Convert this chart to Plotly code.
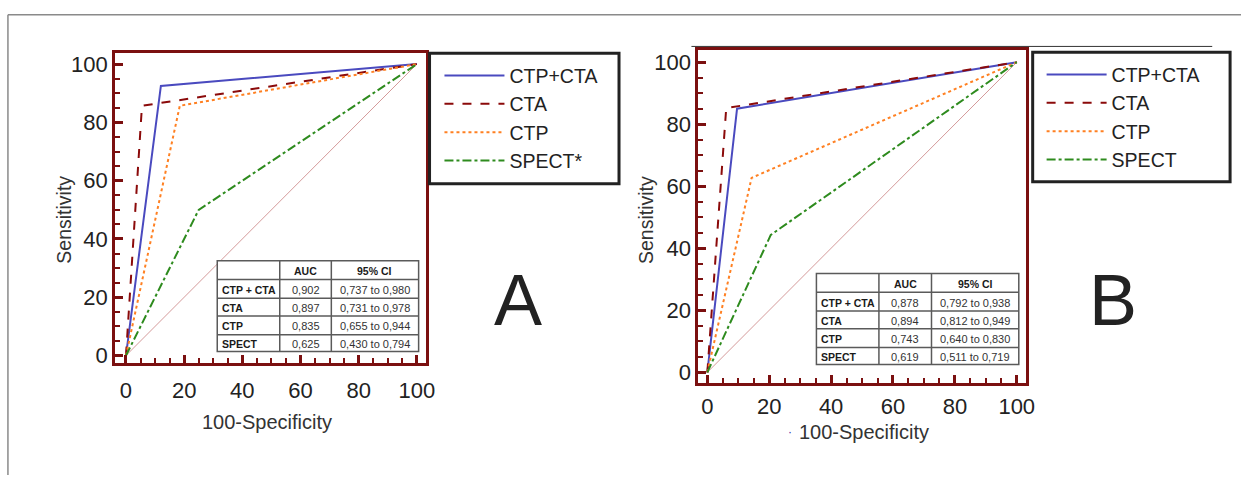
import plotly.graph_objects as go

W, H = 1251, 480
SANS = "Liberation Sans, Arial, sans-serif"

# ---------------- data ----------------
series_names_A = ["CTP+CTA", "CTA", "CTP", "SPECT*"]
series_names_B = ["CTP+CTA", "CTA", "CTP", "SPECT"]

# panel A (x = 100-Specificity, y = Sensitivity)
a_ctpcta_x = [0, 12, 100]
a_ctpcta_y = [0, 92.5, 100]
a_cta_x = [0, 5.5, 100]
a_cta_y = [0, 85.7, 100]
a_ctp_x = [0, 18.5, 100]
a_ctp_y = [0, 85.7, 100]
a_spect_x = [0, 25, 100]
a_spect_y = [0, 50, 100]

# panel B
b_ctpcta_x = [0, 9.6, 100]
b_ctpcta_y = [0, 85, 100]
b_cta_x = [0, 6.1, 100]
b_cta_y = [0, 85.2, 100]
b_ctp_x = [0, 14.3, 100]
b_ctp_y = [0, 62.7, 100]
b_spect_x = [0, 20.5, 100]
b_spect_y = [0, 44.3, 100]

diag_x = [0, 100]
diag_y = [0, 100]

tick_vals = [0, 20, 40, 60, 80, 100]
tick_text = ["0", "20", "40", "60", "80", "100"]

table_rows = ["CTP + CTA", "CTA", "CTP", "SPECT"]
table_header = ["", "AUC", "95% CI"]
auc_A = ["0,902", "0,897", "0,835", "0,625"]
ci_A = ["0,737 to 0,980", "0,731 to 0,978", "0,655 to 0,944", "0,430 to 0,794"]
auc_B = ["0,878", "0,894", "0,743", "0,619"]
ci_B = ["0,792 to 0,938", "0,812 to 0,949", "0,640 to 0,830", "0,511 to 0,719"]

# ---------------- styles ----------------
colors = ["#4a4abf", "#8b0a0a", "#ff8022", "#2e8b1e"]
dashes = ["solid", "dash", "dot", "dashdot"]
widths = [2, 2, 2, 2]
FRAME = "#7b1010"
TABLE_LINE = "#5a5a5a"


def px(x):
    return x / W


def py(y):
    return 1 - y / H


fig = go.Figure()

panels = [
    ("x", "y", "legend",
     [(a_ctpcta_x, a_ctpcta_y), (a_cta_x, a_cta_y), (a_ctp_x, a_ctp_y), (a_spect_x, a_spect_y)],
     series_names_A),
    ("x2", "y2", "legend2",
     [(b_ctpcta_x, b_ctpcta_y), (b_cta_x, b_cta_y), (b_ctp_x, b_ctp_y), (b_spect_x, b_spect_y)],
     series_names_B),
]

for xa, ya, leg, data, names in panels:
    fig.add_trace(go.Scatter(x=diag_x, y=diag_y, mode="lines", xaxis=xa, yaxis=ya,
                             line=dict(color="#d49a9a", width=1), showlegend=False,
                             hoverinfo="skip"))
    for (xs, ys), name, c, d, w in zip(data, names, colors, dashes, widths):
        fig.add_trace(go.Scatter(x=xs, y=ys, mode="lines", name=name, xaxis=xa, yaxis=ya,
                                 line=dict(color=c, dash=d, width=w), legend=leg))


def axis_common(domain, rng, standoff=0):
    return dict(domain=domain, range=rng, showgrid=False, zeroline=False,
                showline=True, mirror=True, linecolor=FRAME, linewidth=3,
                ticks="inside", ticklen=8, tickwidth=2.5, tickcolor=FRAME,
                tickvals=tick_vals, ticktext=tick_text, ticklabelstandoff=standoff,
                minor=dict(dtick=5, tick0=0, ticks="inside", ticklen=5, tickwidth=2,
                           tickcolor=FRAME),
                tickfont=dict(family=SANS, size=22, color="#222222"),
                fixedrange=True)


legend_style = dict(xanchor="left", yanchor="top", bgcolor="rgba(0,0,0,0)",
                    borderwidth=0, itemwidth=60, tracegroupgap=0,
                    font=dict(family=SANS, size=19.5, color="#222222"))

fig.update_layout(
    width=W, height=H, margin=dict(l=0, r=0, t=0, b=0),
    paper_bgcolor="white", plot_bgcolor="white",
    xaxis=dict(**axis_common([px(116), px(429)], [-3.75, 103], standoff=5), anchor="y"),
    yaxis=dict(**axis_common([py(367), py(53)], [-2.7, 103.7]), anchor="x"),
    xaxis2=dict(**axis_common([px(704), px(1034)], [-2.9, 102.9], standoff=1), anchor="y2"),
    yaxis2=dict(**axis_common([py(387), py(50)], [-3.5, 103.8]), anchor="x2"),
    legend=dict(x=px(443), y=py(56), **legend_style),
    legend2=dict(x=px(1050), y=py(55), **legend_style),
    showlegend=True,
)

shapes = [
    # outer gray frame
    dict(type="line", xref="paper", yref="paper", x0=px(8), x1=1, y0=py(14), y1=py(14),
         line=dict(color="#8a8a8a", width=1.5)),
    dict(type="line", xref="paper", yref="paper", x0=px(8), x1=px(8), y0=py(14), y1=0,
         line=dict(color="#8a8a8a", width=1.5)),
    # thin line above panel B
    dict(type="line", xref="paper", yref="paper", x0=px(697), x1=px(1222), y0=py(46), y1=py(46),
         line=dict(color="#333333", width=1)),
    # legend boxes
    dict(type="rect", xref="paper", yref="paper", x0=px(433), x1=px(624), y0=py(185), y1=py(53),
         line=dict(color="#222222", width=3)),
    dict(type="rect", xref="paper", yref="paper", x0=px(1041), x1=px(1240), y0=py(183), y1=py(52),
         line=dict(color="#222222", width=3)),
]

ann = [
    dict(text="100-Specificity", x=px(269), y=py(426), font=dict(family=SANS, size=20, color="#333333")),
    dict(text="100-Specificity", x=px(871), y=py(436), font=dict(family=SANS, size=20, color="#333333")),
    dict(text="·", x=px(796), y=py(436), font=dict(family=SANS, size=12, color="#3333aa")),
    dict(text="Sensitivity", x=px(65), y=py(221), textangle=-90, font=dict(family=SANS, size=19.5, color="#333333")),
    dict(text="Sensitivity", x=px(651), y=py(222), textangle=-90, font=dict(family=SANS, size=19.5, color="#333333")),
    dict(text="A", x=px(522), y=py(303), font=dict(family=SANS, size=72, color="#222222")),
    dict(text="B", x=px(1122), y=py(303), font=dict(family=SANS, size=72, color="#222222")),
]

# ---------------- AUC tables (cells built from the data lists) ----------------
table_layouts = [
    ([219, 282, 334, 422], [263, 282, 301, 319, 338, 355], auc_A, ci_A),
    ([823, 886, 939, 1027], [276, 295, 314, 332, 351, 368], auc_B, ci_B),
]
for cols, rows, auc, ci in table_layouts:
    # white background + outer border
    shapes.append(dict(type="rect", xref="paper", yref="paper", layer="above",
                       x0=px(cols[0]), x1=px(cols[-1]), y0=py(rows[-1]), y1=py(rows[0]),
                       fillcolor="white", line=dict(color=TABLE_LINE, width=1.5)))
    for xc in cols[1:-1]:
        shapes.append(dict(type="line", xref="paper", yref="paper", layer="above",
                           x0=px(xc), x1=px(xc), y0=py(rows[-1]), y1=py(rows[0]),
                           line=dict(color=TABLE_LINE, width=1.5)))
    for yr in rows[1:-1]:
        shapes.append(dict(type="line", xref="paper", yref="paper", layer="above",
                           x0=px(cols[0]), x1=px(cols[-1]), y0=py(yr), y1=py(yr),
                           line=dict(color=TABLE_LINE, width=1.5)))
    columns = [[table_header[0]] + table_rows, [table_header[1]] + auc, [table_header[2]] + ci]
    for ci_idx, col_vals in enumerate(columns):
        for ri, val in enumerate(col_vals):
            if not val:
                continue
            yc = (rows[ri] + rows[ri + 1]) / 2 + 1
            bold = ri == 0 or ci_idx == 0
            txt = "<b>%s</b>" % val if bold else val
            if ci_idx == 0:
                ann.append(dict(text=txt, x=px(cols[0] + 3), y=py(yc), xanchor="left",
                                font=dict(family=SANS, size=10.5, color="#1a1a1a")))
            else:
                ann.append(dict(text=txt, x=px((cols[ci_idx] + cols[ci_idx + 1]) / 2),
                                y=py(yc), xanchor="center",
                                font=dict(family=SANS, size=11 if not bold else 10.5,
                                          color="#333333" if not bold else "#1a1a1a")))

for a in ann:
    a.setdefault("xanchor", "center")
    a.update(xref="paper", yref="paper", showarrow=False, yanchor="middle")

fig.update_layout(shapes=shapes, annotations=ann)

fig.write_html("out.html", config={"displayModeBar": False},
               post_script="document.body.style.margin='0px';")
